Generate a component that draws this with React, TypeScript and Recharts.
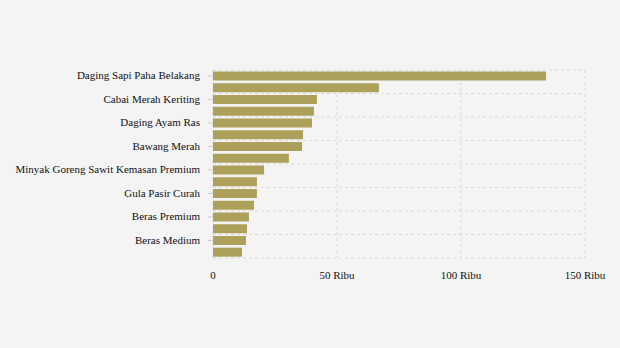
import React from "react";
import { BarChart, Bar, XAxis, YAxis, CartesianGrid } from "recharts";

const categories = [
  "Daging Sapi Paha Belakang",
  "Cabai Rawit Merah",
  "Cabai Merah Keriting",
  "Cabai Merah Besar",
  "Daging Ayam Ras",
  "Bawang Putih Bonggol",
  "Bawang Merah",
  "Telur Ayam Ras",
  "Minyak Goreng Sawit Kemasan Premium",
  "Minyak Goreng Sawit Curah",
  "Gula Pasir Curah",
  "Gula Pasir Kemasan",
  "Beras Premium",
  "Tepung Terigu",
  "Beras Medium",
  "Jagung Pipilan Kering",
];

const prices = [
  134300, 66900, 41900, 40700, 39900, 36300, 35900, 30600,
  20600, 17700, 17700, 16500, 14500, 13700, 13300, 11700,
];

const xTicks = [0, 50000, 100000, 150000];

const data = categories.map((name, i) => ({ name, value: prices[i] }));

const fmt = (v: number) => (v === 0 ? "0" : `${v / 1000} Ribu`);

const FONT = "'Liberation Serif', 'Times New Roman', serif";

const YTick = (props: any) => {
  const { x, y, payload } = props;
  return (
    <text
      x={x}
      y={y}
      dy="0.3em"
      textAnchor="end"
      fill="#111"
      fontSize={11}
      fontFamily={FONT}
    >
      {payload.value}
    </text>
  );
};

export default function App() {
  return (
    <div style={{ position: "fixed", top: 0, left: 0, width: 620, height: 348, background: "#f4f4f4" }}>
      <BarChart
        width={620}
        height={348}
        data={data}
        layout="vertical"
        margin={{ top: 70, right: 35, bottom: 60, left: 0 }}
        barCategoryGap="12%"
      >
        <CartesianGrid
          stroke="#d9d9d9"
          strokeDasharray="3 3"
          horizontalCoordinatesGenerator={(props: any) => {
            const { offset } = props;
            const band = offset.height / categories.length;
            const out: number[] = [];
            for (let k = 0; k <= categories.length; k += 2) out.push(offset.top + k * band);
            return out;
          }}
        />
        <XAxis
          type="number"
          domain={[0, 150000]}
          ticks={xTicks}
          tickFormatter={fmt}
          axisLine={false}
          tickLine={false}
          tickMargin={7}
          height={30}
          tick={{ fill: "#111", fontSize: 11, fontFamily: FONT }}
        />
        <YAxis
          type="category"
          dataKey="name"
          width={213}
          interval={1}
          axisLine={false}
          tickSize={5}
          tickMargin={8}
          tickLine={{ stroke: "#cccccc" }}
          tick={<YTick />}
        />
        <Bar dataKey="value" fill="#ada05a" isAnimationActive={false} />
      </BarChart>
    </div>
  );
}
